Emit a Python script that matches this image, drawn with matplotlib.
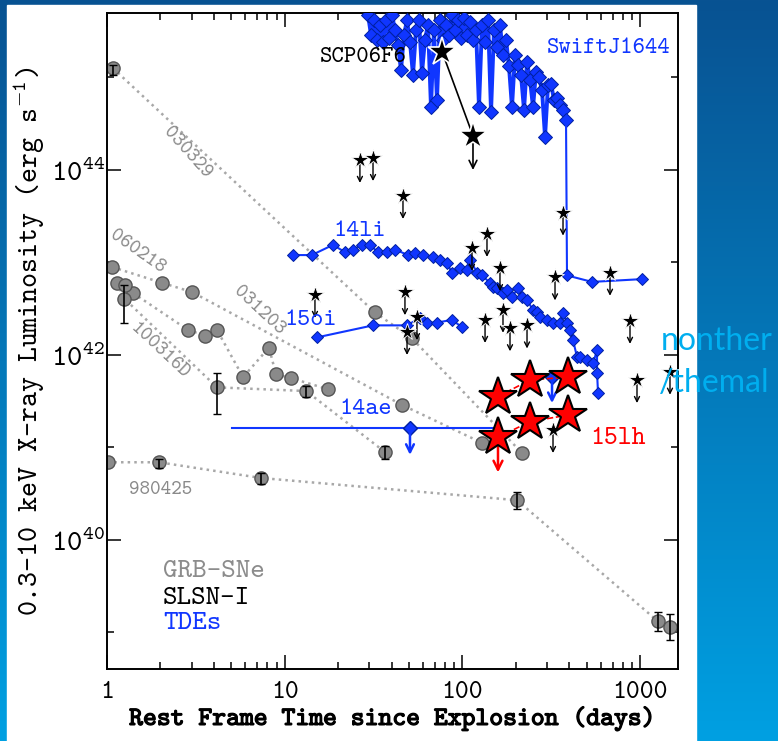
import numpy as np
import matplotlib
matplotlib.use("Agg")
import matplotlib.pyplot as plt
import matplotlib.patheffects as pe
from matplotlib.patches import Rectangle
from matplotlib.ticker import FixedLocator, NullFormatter

plt.rcParams['mathtext.fontset'] = 'custom'
plt.rcParams['mathtext.rm'] = 'cmtt10'
plt.rcParams['mathtext.it'] = 'cmtt10'
plt.rcParams['mathtext.tt'] = 'cmtt10'
plt.rcParams['axes.unicode_minus'] = False

# ---------------- data (days, log10 L_X) ----------------
# GRB-SNe
grb_030329_t = [1.08, 32.2, 52.0, 216.5]
grb_030329_l = [45.10, 42.46, 42.18, 40.94]
grb_060218_t = [1.07, 2.04, 3.01, 45.7, 128.9]
grb_060218_l = [42.95, 42.78, 42.68, 41.46, 41.05]
grb_031203_t = [1.40, 2.86, 3.56, 4.16, 5.83, 8.16, 8.93, 10.85, 17.5]
grb_031203_l = [42.67, 42.27, 42.21, 42.27, 41.76, 42.08, 41.79, 41.75, 41.63]
grb_100316d_t = [1.14, 1.25, 4.16, 13.2, 36.7]
grb_100316d_l = [42.78, 42.61, 41.65, 41.61, 40.95]
grb_980425_t = [1.01, 1.96, 7.36, 202.9, 1261, 1473]
grb_980425_l = [40.84, 40.84, 40.67, 40.43, 39.12, 39.06]
grb_extra_t = [1.26]
grb_extra_l = [42.76]

# error bars on GRB points
grb_err_t = [1.08, 1.25, 4.16, 13.2, 36.7, 1.96, 7.36, 202.9, 1261, 1473]
grb_err_l = [45.10, 42.61, 41.65, 41.61, 40.95, 40.84, 40.67, 40.43, 39.12, 39.06]
grb_err_lo = [45.03, 42.35, 41.36, 41.55, 40.88, 40.78, 40.61, 40.34, 39.02, 38.92]
grb_err_hi = [45.14, 42.76, 41.81, 41.66, 41.02, 40.88, 40.72, 40.52, 39.22, 39.20]

# SLSN-I upper limits
slsn_t = [14.8, 26.5, 31.4, 46.3, 47.5, 48.8, 55.5, 113.2, 137.5, 162.7, 134.1,
          169.2, 185.3, 231.0, 332.0, 368.3, 677.0, 877.3, 960.5, 1473, 323.5]
slsn_l = [42.65, 44.11, 44.13, 43.72, 42.68, 42.25, 42.41, 43.16, 43.31, 42.94, 42.38,
          42.49, 42.29, 42.32, 42.84, 43.54, 42.89, 42.37, 41.73, 41.82, 41.19]
scp06f6_t = [76.8, 114.7]
scp06f6_l = [45.28, 44.37]

# ASASSN-15lh
lh_up_t = [158.6, 240.2, 392.9]
lh_up_l = [41.55, 41.73, 41.76]
lh_lo_t = [158.6, 240.2, 392.9]
lh_lo_l = [41.11, 41.28, 41.35]

# TDEs
j1644_t = [29.43, 30.59, 31.80, 33.06, 34.39, 35.75, 37.16, 38.64, 40.17, 41.76, 43.41,
           45.13, 46.92, 48.78, 50.71, 52.72, 54.81, 56.98, 59.24, 61.58, 64.02, 66.56,
           69.19, 71.94, 74.79, 77.75, 80.83, 84.03, 87.36, 90.82, 94.42, 98.20, 102.1,
           106.1, 110.4, 114.7, 119.3, 124.0, 128.9, 134.1, 139.4, 144.9, 150.6, 156.6,
           162.8, 169.2, 176.0, 182.9, 190.1, 197.7, 205.5, 213.7, 222.2, 231.0, 240.2,
           249.7, 259.6, 269.9, 280.6, 291.7, 303.3, 315.2, 327.8, 340.8, 354.2, 368.3,
           382.9, 387.8, 536.3, 1025]
j1644_l = [45.68, 45.46, 45.62, 45.41, 45.57, 45.38, 45.62, 45.43, 45.68, 45.51, 45.35,
           45.08, 45.46, 45.62, 45.38, 45.03, 45.51, 45.62, 45.05, 45.41, 45.57, 44.68,
           45.51, 44.76, 45.62, 45.41, 45.57, 45.46, 45.68, 45.51, 45.62, 45.43, 45.64,
           45.46, 45.60, 45.41, 45.51, 44.68, 45.57, 45.38, 45.62, 44.63, 45.51, 45.33,
           45.57, 45.24, 45.41, 45.12, 44.68, 45.24, 45.14, 45.03, 44.65, 45.17, 44.97,
           44.68, 45.06, 45.00, 44.86, 44.36, 44.92, 44.93, 44.76, 44.78, 44.70, 44.65,
           44.54, 42.86, 42.79, 42.82]
j1644_bright = 67  # points before the drop
li14_t = [11.1, 14.2, 18.7, 21.9, 24.2, 27.2, 30.2, 33.5, 37.6, 41.8, 49.4, 54.1, 60.0,
          68.3, 74.8, 81.9, 87.4, 96.9, 106.1, 110.4, 120.8, 128.9, 143.0, 148.7, 156.6,
          169.2, 178.2, 190.1, 205.6, 216.5, 231.0, 249.7, 263.0, 273.4, 299.3, 323.5,
          354.2, 368.3, 387.8, 403.2, 419.2, 441.5, 459.1, 502.7, 543.2, 572.3, 572.3, 579.8]
li14_l = [43.08, 43.08, 43.19, 43.11, 43.14, 43.19, 43.19, 43.11, 43.11, 43.14, 43.08, 43.10,
          43.08, 43.06, 43.03, 42.99, 42.89, 42.94, 42.92, 43.03, 42.89, 42.86, 42.78, 42.74,
          42.72, 42.67, 42.70, 42.63, 42.72, 42.63, 42.59, 42.49, 42.46, 42.41, 42.38, 42.35,
          42.35, 42.45, 42.35, 42.27, 42.16, 41.98, 41.98, 41.95, 41.91, 42.05, 41.81, 41.59]
oi15_t = [15.2, 31.4, 48.8, 57.7, 63.2, 72.0, 87.4, 99.5]
oi15_l = [42.19, 42.32, 42.32, 42.40, 42.35, 42.35, 42.38, 42.30]
ae14_t = 50.7
ae14_l = 41.21
ae14_tmin = 5.05
ae14_tmax = 152.6
tde_ul_t = [319.4]
tde_ul_l = [41.76]

# ---------------- figure ----------------
W, H = 778, 741
fig = plt.figure(figsize=(W / 100, H / 100), dpi=100)

# slide background gradient + white panel
bg = fig.add_axes([0, 0, 1, 1], zorder=-10)
top = np.array([8, 82, 146]) / 255
bot = np.array([0, 160, 226]) / 255
frac = np.linspace(0, 1, 256)[:, None]
grad = top[None, :] * (1 - frac) + bot[None, :] * frac
bg.imshow(grad[:, None, :], aspect='auto', extent=[0, 1, 0, 1])
bg.add_patch(Rectangle((7 / W, 0), (696 - 7) / W, (741 - 5) / H, color='white'))
bg.set_xlim(0, 1)
bg.set_ylim(0, 1)
bg.axis('off')

ax = fig.add_axes([107 / W, 1 - 669 / H, (678 - 107) / W, (669 - 13) / H])
ax.set_xscale('log')
ax.set_yscale('log')

blue = '#1036ff'
dblue = '#0020a0'
gray = '#8a8a8a'
tt_font = 'cmtt10'


def L(v):
    return 10 ** np.asarray(v, dtype=float)


def down_arrow(t, l, dex, color, lw=1.0, ms=8):
    ax.annotate('', xy=(t, 10 ** (l - dex)), xytext=(t, 10 ** l),
                arrowprops=dict(arrowstyle='->', color=color, lw=lw,
                                mutation_scale=ms, shrinkA=0, shrinkB=0),
                zorder=4)


# GRB-SNe
for tt, ll in [(grb_030329_t, grb_030329_l), (grb_060218_t, grb_060218_l),
               (grb_031203_t, grb_031203_l), (grb_100316d_t, grb_100316d_l),
               (grb_980425_t, grb_980425_l)]:
    ax.plot(tt, L(ll), ls=':', color='#a8a8a8', lw=1.8, zorder=1)
for tt, ll in [(grb_030329_t, grb_030329_l), (grb_060218_t, grb_060218_l),
               (grb_031203_t, grb_031203_l), (grb_100316d_t, grb_100316d_l),
               (grb_980425_t, grb_980425_l), (grb_extra_t, grb_extra_l)]:
    ax.plot(tt, L(ll), 'o', ms=9.5, mfc=gray, mec='#555555', mew=1, ls='none', zorder=2)
lo = L(grb_err_l) - L(grb_err_lo)
hi = L(grb_err_hi) - L(grb_err_l)
ax.errorbar(grb_err_t, L(grb_err_l), yerr=[lo, hi], fmt='none', ecolor='black',
            elinewidth=1.2, capsize=3, zorder=3)

# TDEs
nb = j1644_bright
ax.plot(j1644_t[:nb], L(j1644_l[:nb]), '-D', color=blue, ms=7.2, mec=dblue, mew=0.7,
        lw=2.8, zorder=3)
ax.plot(j1644_t[nb - 1:], L(j1644_l[nb - 1:]), '-', color=blue, lw=1.5, zorder=3)
ax.plot(j1644_t[nb:], L(j1644_l[nb:]), 'D', color=blue, ms=6, mec=dblue, mew=0.7,
        zorder=3)
ax.plot(li14_t, L(li14_l), '-D', color=blue, ms=6, mec=dblue, mew=0.7, lw=1.5, zorder=3)
ax.plot(oi15_t, L(oi15_l), '-D', color=blue, ms=6, mec=dblue, mew=0.7, lw=1.5, zorder=3)
ax.plot([ae14_tmin, ae14_tmax], L([ae14_l, ae14_l]), '-', color=blue, lw=1.5, zorder=3)
ax.plot([ae14_t], L([ae14_l]), 'D', color=blue, ms=7, mec=dblue, zorder=4)
down_arrow(ae14_t, ae14_l, 0.29, blue, lw=1.8, ms=14)
ax.plot(tde_ul_t, L(tde_ul_l), 'D', color=blue, ms=7, mec=dblue, zorder=4)
for tt, ll in zip(tde_ul_t, tde_ul_l):
    down_arrow(tt, ll, 0.28, blue, lw=1.8, ms=14)

# SLSN-I
ax.plot(slsn_t, L(slsn_l), '*', color='black', ms=13, mec='white', mew=0.6, ls='none', zorder=5)
for tt, ll in zip(slsn_t, slsn_l):
    down_arrow(tt, ll, 0.25, 'black', lw=1.0, ms=9)
ax.plot(scp06f6_t, L(scp06f6_l), '-', color='black', lw=1.2, zorder=5)
ax.plot(scp06f6_t, L(scp06f6_l), '*', color='black', ms=21, mec='white', mew=1.2, ls='none', zorder=6)
down_arrow(scp06f6_t[1], scp06f6_l[1], 0.37, 'black', lw=1.2, ms=14)

# ASASSN-15lh
ax.plot(lh_up_t, L(lh_up_l), '--', color='red', lw=1.2, zorder=6)
ax.plot(lh_lo_t, L(lh_lo_l), '--', color='red', lw=1.2, zorder=6)
down_arrow(lh_lo_t[0], lh_lo_l[0], 0.38, 'red', lw=1.8, ms=16)
ax.plot(lh_up_t + lh_lo_t, L(lh_up_l + lh_lo_l), '*', color='red', ms=29,
        mec='black', mew=1.5, ls='none', zorder=7)

# ---------------- labels ----------------
tk = dict(fontfamily=tt_font, zorder=8, va='center')
ax.text(299, 10 ** 45.31, 'SwiftJ1644', color=blue, fontsize=17, ha='left', **tk)
ax.text(48.8, 10 ** 45.22, 'SCP06F6', color='black', fontsize=17, ha='right', **tk)
ax.text(26.5, 10 ** 43.33, '14li', color=blue, fontsize=18, ha='center', **tk)
ax.text(13.9, 10 ** 42.37, '15oi', color=blue, fontsize=18, ha='center', **tk)
ax.text(28.7, 10 ** 41.41, '14ae', color=blue, fontsize=18, ha='center', **tk)
ax.text(522, 10 ** 41.10, '15lh', color='red', fontsize=19, ha='left', **tk)
ax.text(2.82, 10 ** 44.18, '030329', color=gray, fontsize=14.5, rotation=-48, ha='center', **tk)
ax.text(1.475, 10 ** 43.11, '060218', color=gray, fontsize=14.5, rotation=-35, ha='center', **tk)
ax.text(7.18, 10 ** 42.48, '031203', color=gray, fontsize=14.5, rotation=-43, ha='center', **tk)
ax.text(1.99, 10 ** 42.04, '100316D', color=gray, fontsize=14.5, rotation=-43, ha='center', **tk)
ax.text(2.01, 10 ** 40.54, '980425', color=gray, fontsize=14.5, ha='center', **tk)

ax.text(0.098, 0.148, 'GRB-SNe', color='#8c8c8c', fontsize=20, transform=ax.transAxes, **tk)
ax.text(0.098, 0.107, 'SLSN-I', color='black', fontsize=20, transform=ax.transAxes, **tk)
ax.text(0.098, 0.070, 'TDEs', color=blue, fontsize=20, transform=ax.transAxes, **tk)

# ---------------- axes ----------------
ax.set_xlim(1, 1634)
ax.set_ylim(10 ** 38.605, 10 ** 45.697)
ax.xaxis.set_major_locator(FixedLocator([1, 10, 100, 1000]))
ax.xaxis.set_minor_locator(FixedLocator([m * d for d in [1, 10, 100, 1000] for m in range(2, 10)]))
ax.xaxis.set_minor_formatter(NullFormatter())
ax.set_xticklabels(['1', '10', '100', '1000'], fontfamily=tt_font, fontsize=19)
ax.yaxis.set_major_locator(FixedLocator([1e40, 1e42, 1e44]))
ax.yaxis.set_minor_locator(FixedLocator([1e39, 1e41, 1e43, 1e45]))
ax.yaxis.set_minor_formatter(NullFormatter())
ax.set_yticklabels([r'$10^{40}$', r'$10^{42}$', r'$10^{44}$'], fontsize=21)
ax.tick_params(which='both', direction='in', top=True, right=True, width=1.1)
ax.tick_params(which='major', length=10)
ax.tick_params(which='minor', length=5)
ax.tick_params(axis='x', which='major', pad=9)
ax.tick_params(axis='y', which='major', pad=1)
for s in ax.spines.values():
    s.set_linewidth(1.4)

ax.set_xlabel('Rest Frame Time since Explosion (days)', fontfamily=tt_font, fontsize=19,
              labelpad=1, path_effects=[pe.withStroke(linewidth=0.9, foreground='black')])
ax.set_ylabel(r'0.3-10 keV X-ray Luminosity (erg s$^{-1}$)', fontfamily=tt_font,
              fontsize=20.5, labelpad=3)

# slide annotation
fig.text(661 / W, 1 - 350 / H, 'nonther', color='#00aeef', fontsize=23, fontfamily='Lato',
         ha='left', va='baseline')
fig.text(659 / W, 1 - 392 / H, '/themal', color='#00aeef', fontsize=23, fontfamily='Lato',
         ha='left', va='baseline')

fig.savefig('out.png', dpi=100)
